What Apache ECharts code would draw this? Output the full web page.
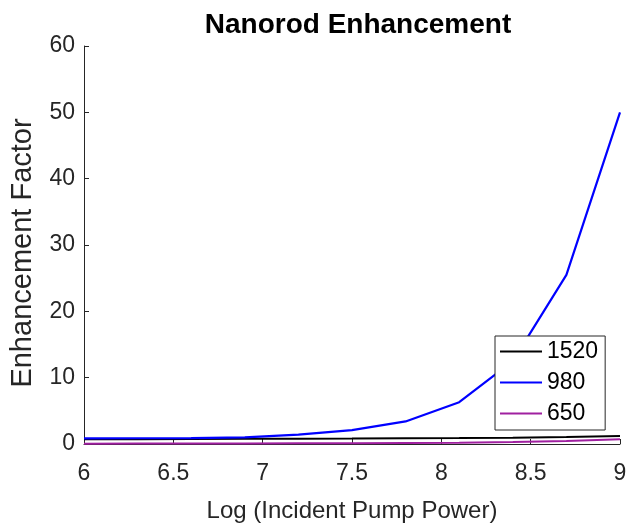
<!DOCTYPE html>
<html>
<head>
<meta charset="utf-8">
<script src="https://cdn.jsdelivr.net/npm/echarts@6/dist/echarts.min.js"></script>
<style>html,body{margin:0;padding:0;background:#fff}#c{width:630px;height:524px}</style>
</head>
<body>
<div id="c"></div>
<script>
var xValues = [6, 6.3, 6.6, 6.9, 7.2, 7.5, 7.8, 8.1, 8.4, 8.7, 9];
var s1520 = [0.7, 0.72, 0.75, 0.78, 0.8, 0.83, 0.87, 0.9, 0.95, 1.05, 1.2];
var s980 = [0.85, 0.87, 0.9, 1.0, 1.4, 2.1, 3.4, 6.3, 12.5, 25.5, 50];
var s650 = [0.05, 0.06, 0.07, 0.08, 0.1, 0.12, 0.15, 0.2, 0.3, 0.45, 0.7];
var seriesNames = ['1520', '980', '650'];
var xTicks = [6, 6.5, 7, 7.5, 8, 8.5, 9];
var yTicks = [0, 10, 20, 30, 40, 50, 60];

function pairs(arr){ return xValues.map(function(x,i){ return [x, arr[i]]; }); }
var font = 'Liberation Sans, Arial, Helvetica, sans-serif';
var chart = echarts.init(document.getElementById('c'));
chart.setOption({
  animation: false,
  title: {
    text: 'Nanorod Enhancement', left: 353, top: 6, textAlign: 'center',
    textStyle: { fontFamily: font, fontSize: 28, fontWeight: 'bold', color: '#000' }
  },
  grid: { left: 84, right: 10, top: 46, bottom: 80, outerBoundsMode: 'none', containLabel: false },
  legend: {
    orient: 'vertical', left: 495, top: 336,
    backgroundColor: '#fff', borderColor: '#262626', borderWidth: 1,
    padding: [4, 7, 5, 5], itemGap: 8, itemWidth: 42, itemHeight: 2, icon: 'rect',
    textStyle: { fontFamily: font, fontSize: 23, color: '#000' },
    data: seriesNames
  },
  xAxis: {
    type: 'value', min: 6, max: 9, interval: 0.5,
    name: 'Log (Incident Pump Power)', nameLocation: 'middle', nameGap: 55,
    nameTextStyle: { fontFamily: font, fontSize: 24, color: '#262626' },
    axisLine: { lineStyle: { color: '#262626', width: 1 } },
    axisTick: { inside: true, length: 5, lineStyle: { color: '#262626' } },
    axisLabel: { fontFamily: font, fontSize: 23, color: '#262626', margin: 18,
      formatter: function(v){ return xTicks.indexOf(v) >= 0 ? String(v) : ''; } },
    splitLine: { show: false }
  },
  yAxis: {
    type: 'value', min: 0, max: 60, interval: 10,
    name: 'Enhancement Factor', nameLocation: 'middle', nameGap: 47,
    nameTextStyle: { fontFamily: font, fontSize: 29, color: '#262626', padding: [0, 16, 0, 0] },
    axisLine: { show: true, lineStyle: { color: '#262626', width: 1 } },
    axisTick: { show: true, inside: true, length: 5, lineStyle: { color: '#262626' } },
    axisLabel: { fontFamily: font, fontSize: 23, color: '#262626', margin: 9,
      formatter: function(v){ return yTicks.indexOf(v) >= 0 ? String(v) : ''; } },
    splitLine: { show: false }
  },
  series: [
    { name: seriesNames[0], type: 'line', data: pairs(s1520), symbol: 'none',
      lineStyle: { color: '#000', width: 2 }, itemStyle: { color: '#000' } },
    { name: seriesNames[1], type: 'line', data: pairs(s980), symbol: 'none',
      lineStyle: { color: '#0000ff', width: 2.2 }, itemStyle: { color: '#0000ff' } },
    { name: seriesNames[2], type: 'line', data: pairs(s650), symbol: 'none',
      lineStyle: { color: '#a020a0', width: 2 }, itemStyle: { color: '#a020a0' } }
  ]
});
</script>
</body>
</html>
